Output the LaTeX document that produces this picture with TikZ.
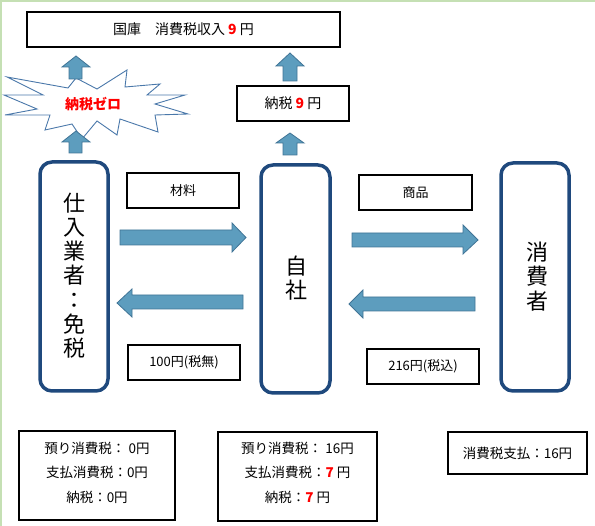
\documentclass[tikz,border=0pt]{standalone}
\usepackage{fontspec}
\setmainfont{Noto Sans CJK JP}
\usetikzlibrary{positioning}
\definecolor{arrowfill}{RGB}{93,157,190}
\definecolor{arrowline}{RGB}{64,116,150}
\definecolor{mainblue}{RGB}{31,73,125}
\definecolor{edgegreen}{RGB}{197,224,180}
\definecolor{starline}{RGB}{74,120,170}
\newcommand{\rednum}[1]{{\bfseries\color{red}#1}}
\tikzset{
  thinbox/.style={draw=black, line width=1.3pt, fill=white, inner sep=0pt, font=\fontsize{13}{15}\selectfont},
  mainbox/.style={draw=mainblue, line width=3.5pt, rounded corners=12pt, inner sep=0pt, align=center, font=\fontsize{22}{24.3}\selectfont},
  infobox/.style={draw=black, line width=1.3pt, inner sep=0pt, align=center, font=\fontsize{13.5}{24.5}\selectfont},
  blockarrow/.style={fill=arrowfill, draw=arrowline, line width=0.8pt},
  starburst/.style={fill=white, draw=starline, line width=0.9pt}
}
\begin{document}
\begin{tikzpicture}[x=1pt,y=-1pt]
\useasboundingbox (0,0) rectangle (595,526);
\draw[edgegreen, line width=2pt] (1,526) -- (1,1) -- (595,1);

% top box
\node[thinbox, minimum width=313pt, minimum height=35pt, font=\fontsize{14}{16}\selectfont] (kokko) at (183.5,29.5) {国庫　消費税収入 \rednum{9} 円};

% starburst
\draw[starburst] (7,77) -- (68,88) -- (76,78) -- (97,89) -- (127,70) -- (125,87) -- (160,84) -- (147,95) -- (185,95) -- (155,104) -- (188,114) -- (155,115) -- (158,132) -- (120,119) -- (117,135) -- (97,121) -- (82,139) -- (72,124) -- (45,130) -- (50,115) -- (5,115) -- (37,109) -- (4,95) -- (43,95) -- cycle;
\node[font=\fontsize{14}{16}\selectfont\bfseries, text=red] (zero) at (93,104) {納税ゼロ};

% tax box
\node[thinbox, minimum width=112pt, minimum height=35pt, font=\fontsize{14}{16}\selectfont] (nozei) at (293,103.5) {納税 \rednum{9} 円};

% up arrows
\draw[blockarrow] (69,79) -- (69,67) -- (62,67) -- (76,56) -- (90,67) -- (82,67) -- (82,79) -- cycle;
\draw[blockarrow] (69,153) -- (69,142) -- (62,142) -- (76,131) -- (90,142) -- (82,142) -- (82,153) -- cycle;
\draw[blockarrow] (283,81) -- (283,66) -- (276,66) -- (290,53) -- (304,66) -- (297,66) -- (297,81) -- cycle;
\draw[blockarrow] (283,155) -- (283,143) -- (276,143) -- (290,133) -- (304,143) -- (297,143) -- (297,155) -- cycle;

% main boxes
\node[mainbox, minimum width=68pt, minimum height=229pt] (shiire) at (74,276.5) {};
\node at (74,275.5) [align=center, font=\fontsize{22}{24.2}\selectfont] (shiiretxt) {仕\\入\\業\\者\\：\\免\\税};
\node[mainbox, minimum width=69pt, minimum height=228pt] (jisha) at (295.5,279) {};
\node at (296,278) [align=center, font=\fontsize{22}{24.2}\selectfont] (jishatxt) {自\\社};
\node[mainbox, minimum width=68pt, minimum height=228pt] (shohi) at (535,277) {};
\node at (537,276.5) [align=center, font=\fontsize{22}{24.5}\selectfont] (shohitxt) {消\\費\\者};

% label boxes
\node[thinbox, minimum width=112pt, minimum height=35pt] (zairyo) at (183,190.5) {材料};
\node[thinbox, minimum width=112pt, minimum height=35pt] (yen100) at (184,362.5) {100円(税無)};
\node[thinbox, minimum width=113pt, minimum height=35pt] (shohin) at (415.5,192.5) {商品};
\node[thinbox, minimum width=112pt, minimum height=35pt] (yen216) at (423,366.5) {216円(税込)};

% horizontal arrows
\draw[blockarrow] (120,230) -- (232,230) -- (232,223) -- (246,237.5) -- (232,252) -- (232,245) -- (120,245) -- cycle;
\draw[blockarrow] (243,295) -- (132,295) -- (132,289) -- (117,303) -- (132,317) -- (132,309) -- (243,309) -- cycle;
\draw[blockarrow] (352,233) -- (463,233) -- (463,225) -- (478,240) -- (463,254) -- (463,247) -- (352,247) -- cycle;
\draw[blockarrow] (475,297) -- (363,297) -- (363,290) -- (349,304) -- (363,318) -- (363,311) -- (475,311) -- cycle;

% bottom info boxes
\node[infobox, minimum width=156pt, minimum height=89pt] (infoL) at (97,475.5) {};
\node[align=center, font=\fontsize{13.5}{24.5}\selectfont] (infoLtxt) at (97,472.5) {預り消費税： 0円\\支払消費税：0円\\納税：0円};
\node[infobox, minimum width=159pt, minimum height=89pt] (infoM) at (297.5,476.5) {};
\node[align=center, font=\fontsize{13.5}{24.5}\selectfont] (infoMtxt) at (297.5,472.5) {預り消費税： 16円\\支払消費税：\rednum{7} 円\\納税：\rednum{7} 円};
\node[infobox, minimum width=139pt, minimum height=42pt] (infoR) at (517.5,453) {消費税支払：16円};
\end{tikzpicture}
\end{document}
